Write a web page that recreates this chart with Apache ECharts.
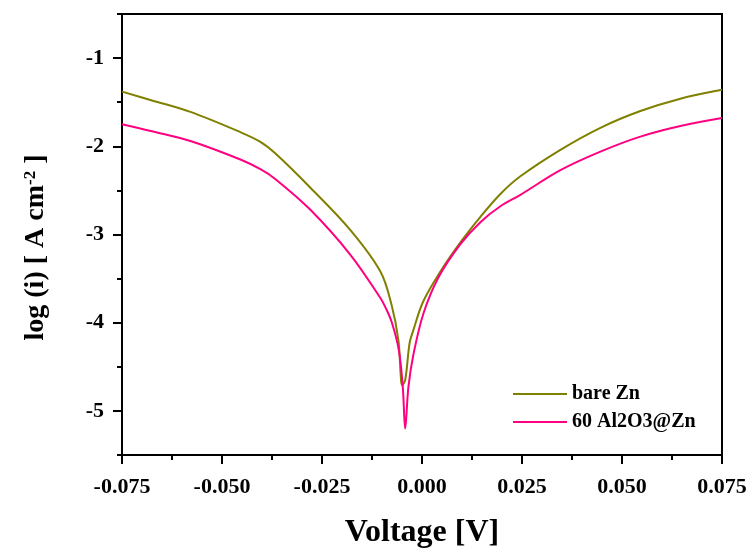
<!DOCTYPE html>
<html>
<head>
<meta charset="utf-8">
<script src="https://cdn.jsdelivr.net/npm/echarts@6/dist/echarts.min.js"></script>
<style>
  html, body { margin: 0; padding: 0; background: #fff; }
  #chart { width: 753px; height: 554px; }
</style>
</head>
<body>
<div id="chart"></div>
<script>
// tick positions
const xTicks = [-0.075, -0.05, -0.025, 0, 0.025, 0.05, 0.075];
const xMinorTicks = [-0.0625, -0.0375, -0.0125, 0.0125, 0.0375, 0.0625];
const yTicks = [-5, -4, -3, -2, -1];
const yMinorTicks = [-5.5, -4.5, -3.5, -2.5, -1.5, -0.5];

// bare Zn
const voltBare = [-0.075, -0.0675, -0.0579, -0.0454, -0.0404, -0.0367, -0.0279, -0.0179, -0.0104,
  -0.0076, -0.0059, -0.0053, -0.0050, -0.0042, -0.0031, -0.0022, 0.0003, 0.0046, 0.0096,
  0.0146, 0.0196, 0.0246, 0.0346, 0.0446, 0.0546, 0.0646, 0.075];
const logBare = [-1.38, -1.48, -1.61, -1.84, -1.95, -2.08, -2.47, -2.95, -3.42,
  -3.80, -4.20, -4.61, -4.71, -4.65, -4.23, -4.09, -3.76, -3.42, -3.09,
  -2.80, -2.54, -2.34, -2.04, -1.79, -1.60, -1.46, -1.36];

// 60 Al2O3@Zn
const voltCoat = [-0.075, -0.0675, -0.0579, -0.0454, -0.0404, -0.0367, -0.0279, -0.0179, -0.0104,
  -0.0092, -0.0076, -0.0058, -0.0048, -0.0042, -0.0034, -0.0021, 0.0004, 0.0042, 0.0096,
  0.0146, 0.0196, 0.0246, 0.0346, 0.0446, 0.0546, 0.0646, 0.075];
const logCoat = [-1.75, -1.83, -1.94, -2.15, -2.26, -2.37, -2.72, -3.23, -3.72,
  -3.82, -3.99, -4.31, -4.73, -5.20, -4.73, -4.35, -3.89, -3.48, -3.11,
  -2.86, -2.68, -2.55, -2.27, -2.06, -1.89, -1.77, -1.68];

const FONT = 'Liberation Serif';

const chart = echarts.init(document.getElementById('chart'));

const baseX = {
  type: 'value', min: -0.075, max: 0.075, position: 'bottom',
  splitLine: { show: false }
};
const baseY = {
  type: 'value', min: -5.5, max: -0.5, position: 'left',
  splitLine: { show: false }
};

chart.setOption({
  animation: false,
  backgroundColor: '#fff',
  grid: {
    left: 122, right: 31, top: 14, bottom: 98,
    show: true, borderColor: '#000', borderWidth: 2
  },
  legend: {
    orient: 'vertical',
    left: 513, top: 384, padding: 0,
    icon: 'rect',
    itemWidth: 54, itemHeight: 2, itemGap: 8,
    textStyle: { fontFamily: FONT, fontWeight: 'bold', fontSize: 20, color: '#000' },
    data: ['bare Zn', '60 Al2O3@Zn']
  },
  xAxis: [
    Object.assign({}, baseX, {
      name: 'Voltage [V]',
      nameLocation: 'middle',
      nameGap: 62,
      nameTextStyle: { fontFamily: FONT, fontWeight: 'bold', fontSize: 32, color: '#000' },
      axisLine: { onZero: false, lineStyle: { color: '#000', width: 2 } },
      axisTick: { customValues: xTicks, length: 9, lineStyle: { color: '#000', width: 2 } },
      axisLabel: {
        customValues: xTicks, margin: 21,
        fontFamily: FONT, fontWeight: 'bold', fontSize: 22, color: '#000',
        formatter: v => v.toFixed(3)
      }
    }),
    Object.assign({}, baseX, {
      axisLine: { show: false, onZero: false },
      axisTick: { customValues: xMinorTicks, length: 5, lineStyle: { color: '#000', width: 2 } },
      axisLabel: { show: false }
    })
  ],
  yAxis: [
    Object.assign({}, baseY, {
      name: 'log (i) [ A cm{sup|-2} ]',
      nameLocation: 'middle',
      nameRotate: 90,
      nameGap: 72,
      nameTextStyle: {
        fontFamily: FONT, fontWeight: 'bold', fontSize: 28, color: '#000',
        padding: [0, 26, 0, 0],
        rich: {
          sup: { fontFamily: FONT, fontWeight: 'bold', fontSize: 17, color: '#000', verticalAlign: 'top', padding: [0, 0, 11, 0] }
        }
      },
      axisLine: { onZero: false, lineStyle: { color: '#000', width: 2 } },
      axisTick: { customValues: yTicks, length: 9, lineStyle: { color: '#000', width: 2 } },
      axisLabel: {
        customValues: yTicks, margin: 18,
        fontFamily: FONT, fontWeight: 'bold', fontSize: 22, color: '#000'
      }
    }),
    Object.assign({}, baseY, {
      axisLine: { show: false, onZero: false },
      axisTick: { customValues: yMinorTicks, length: 5, lineStyle: { color: '#000', width: 2 } },
      axisLabel: { show: false }
    })
  ],
  series: [
    {
      name: 'bare Zn', type: 'line',
      data: voltBare.map((v, i) => [v, logBare[i]]),
      symbol: 'none', smooth: 0.35,
      lineStyle: { color: '#808000', width: 2 },
      itemStyle: { color: '#808000' }
    },
    {
      name: '60 Al2O3@Zn', type: 'line',
      data: voltCoat.map((v, i) => [v, logCoat[i]]),
      symbol: 'none', smooth: 0.35,
      lineStyle: { color: '#FF0080', width: 2 },
      itemStyle: { color: '#FF0080' }
    }
  ]
});
</script>
</body>
</html>
